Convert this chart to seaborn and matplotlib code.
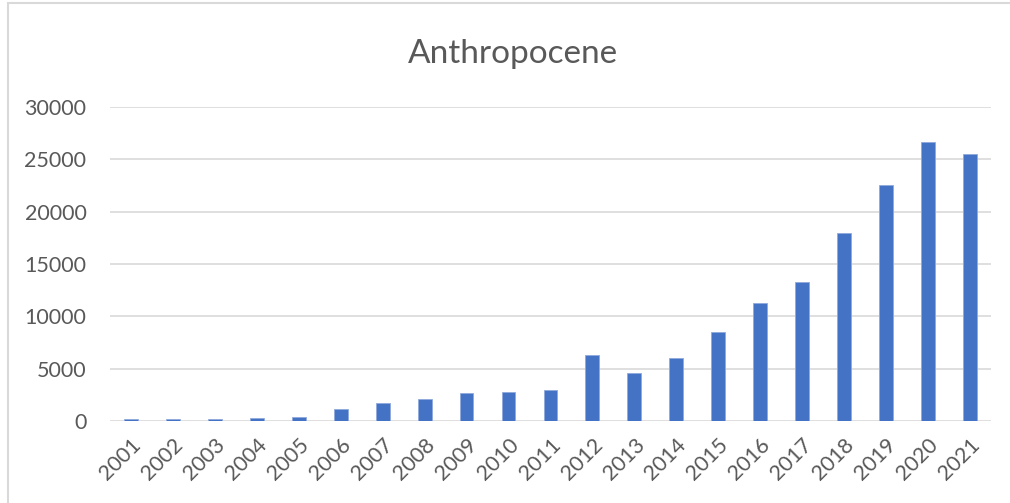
import matplotlib.pyplot as plt
import pandas as pd
import seaborn as sns
from matplotlib.patches import Rectangle

years = [str(y) for y in range(2001, 2022)]
counts = [160, 200, 200, 280, 400, 1150, 1690, 2130, 2700, 2740, 2930,
          6270, 4580, 6060, 8470, 11270, 13250, 17950, 22550, 26650, 25480]

df = pd.DataFrame({"year": years, "count": counts})

sns.set_theme(style="white")
plt.rcParams["font.family"] = ["Lato", "DejaVu Sans"]
grey = "#595959"

fig = plt.figure(figsize=(10.10, 5.03), dpi=100)
ax = fig.add_axes([0.109, 0.163, 0.872, 0.624])

sns.barplot(data=df, x="year", y="count", color="#4472C4", width=0.33,
            saturation=1, edgecolor="#8FAADC", linewidth=0.6, ax=ax, zorder=3)

ax.set_ylim(0, 30000)
ax.set_xlim(-0.5, len(years) - 0.5)
ax.set_yticks(range(0, 30001, 5000))
ax.yaxis.grid(True, color="#D9D9D9", linewidth=1.2, zorder=0)
ax.set_axisbelow(True)
for s in ax.spines.values():
    s.set_visible(False)
ax.set_xlabel("")
ax.set_ylabel("")
ax.tick_params(axis="y", colors=grey, labelsize=15.5, length=0, pad=17)
ax.tick_params(axis="x", colors=grey, labelsize=15.5, length=0, pad=10)
plt.setp(ax.get_xticklabels(), rotation=45, ha="right", rotation_mode="anchor")

fig.text(0.508, 0.893, "Anthropocene", ha="center", va="center",
         fontsize=24, color=grey)

fig.patches.append(Rectangle((0.008, -0.05), 1.1, 1.044, transform=fig.transFigure,
                             fill=False, edgecolor="#D9D9D9", linewidth=1.5))

fig.savefig("out.png", dpi=100)
